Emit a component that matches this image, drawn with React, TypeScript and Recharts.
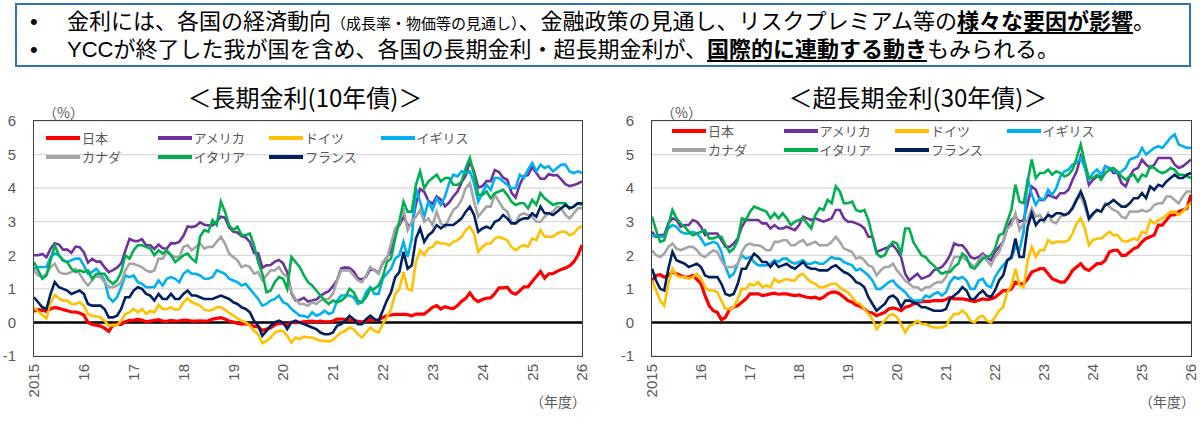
import React from 'react';
import { LineChart, Line, XAxis, YAxis, CartesianGrid, ReferenceLine } from 'recharts';

// x axis: monthly points, Jan 2015 .. Jan 2026 (t in years from Jan 2015)
const YEAR_LABELS = ['2015', '16', '17', '18', '19', '20', '21', '22', '23', '24', '25', '26'];
const YEAR_TICKS = YEAR_LABELS.map((_, i) => i);
const Y_TICKS = [-1, 0, 1, 2, 3, 4, 5, 6];

const COUNTRIES = [
  { key: 'jp', name: '日本', color: '#ff0000', width: 3.2 },
  { key: 'us', name: 'アメリカ', color: '#7030a0', width: 2.6 },
  { key: 'de', name: 'ドイツ', color: '#ffc000', width: 2.6 },
  { key: 'uk', name: 'イギリス', color: '#00b0f0', width: 2.6 },
  { key: 'ca', name: 'カナダ', color: '#a5a5a5', width: 2.6 },
  { key: 'it', name: 'イタリア', color: '#00b050', width: 2.6 },
  { key: 'fr', name: 'フランス', color: '#002060', width: 2.6 },
];

// ---- 10-year yields (%) ----
const jp10 = [
  0.33, 0.38, 0.36, 0.33, 0.40, 0.45, 0.42, 0.38, 0.35, 0.31, 0.31, 0.28,
  0.22, 0.00, -0.06, -0.08, -0.11, -0.17, -0.27, -0.08, -0.06, -0.06, 0.02, 0.06,
  0.07, 0.09, 0.07, 0.02, 0.04, 0.06, 0.08, 0.04, 0.03, 0.06, 0.04, 0.05,
  0.07, 0.06, 0.04, 0.04, 0.05, 0.04, 0.05, 0.10, 0.12, 0.14, 0.10, 0.04,
  0.01, -0.03, -0.05, -0.04, -0.06, -0.12, -0.13, -0.24, -0.20, -0.16, -0.08, -0.02,
  -0.04, -0.09, 0.01, -0.01, 0.00, 0.02, 0.03, 0.04, 0.02, 0.04, 0.02, 0.02,
  0.04, 0.10, 0.10, 0.09, 0.08, 0.06, 0.03, 0.02, 0.04, 0.09, 0.07, 0.06,
  0.15, 0.20, 0.22, 0.24, 0.24, 0.24, 0.23, 0.20, 0.25, 0.25, 0.25, 0.35,
  0.45, 0.50, 0.40, 0.47, 0.43, 0.41, 0.50, 0.63, 0.72, 0.88, 0.70, 0.62,
  0.68, 0.72, 0.73, 0.86, 1.03, 1.03, 1.05, 0.89, 0.84, 0.94, 1.06, 1.06,
  1.22, 1.37, 1.52, 1.32, 1.45, 1.45, 1.52, 1.58, 1.62, 1.68, 1.80, 2.00,
  2.30,
];
const us10 = [
  2.00, 2.00, 2.04, 1.94, 2.20, 2.36, 2.32, 2.17, 2.17, 2.07, 2.26, 2.24,
  2.09, 1.78, 1.89, 1.81, 1.81, 1.64, 1.50, 1.56, 1.63, 1.76, 2.14, 2.49,
  2.43, 2.42, 2.48, 2.30, 2.30, 2.19, 2.32, 2.21, 2.20, 2.36, 2.35, 2.40,
  2.58, 2.86, 2.84, 2.87, 2.98, 2.91, 2.89, 2.89, 3.00, 3.15, 3.12, 2.83,
  2.71, 2.68, 2.57, 2.53, 2.40, 2.07, 2.06, 1.63, 1.70, 1.71, 1.81, 1.86,
  1.76, 1.50, 0.87, 0.66, 0.67, 0.73, 0.62, 0.65, 0.68, 0.79, 0.87, 0.93,
  1.08, 1.26, 1.61, 1.64, 1.62, 1.52, 1.32, 1.28, 1.37, 1.58, 1.56, 1.47,
  1.76, 1.93, 2.13, 2.75, 2.90, 3.14, 2.90, 2.90, 3.52, 3.98, 3.89, 3.62,
  3.53, 3.75, 3.66, 3.46, 3.57, 3.75, 3.90, 4.17, 4.38, 4.80, 4.50, 4.02,
  4.06, 4.21, 4.21, 4.54, 4.48, 4.31, 4.25, 3.87, 3.72, 4.10, 4.36, 4.39,
  4.63, 4.45, 4.28, 4.28, 4.42, 4.38, 4.39, 4.26, 4.12, 4.06, 4.09, 4.14,
  4.20,
];
const de10 = [
  0.45, 0.33, 0.22, 0.12, 0.58, 0.82, 0.72, 0.65, 0.65, 0.55, 0.55, 0.60,
  0.50, 0.25, 0.20, 0.18, 0.15, 0.05, -0.10, -0.08, -0.08, 0.05, 0.25, 0.30,
  0.40, 0.30, 0.40, 0.25, 0.35, 0.30, 0.52, 0.40, 0.40, 0.45, 0.38, 0.40,
  0.60, 0.72, 0.60, 0.55, 0.50, 0.38, 0.35, 0.38, 0.45, 0.45, 0.38, 0.28,
  0.20, 0.12, 0.05, 0.00, -0.10, -0.25, -0.35, -0.62, -0.55, -0.45, -0.30, -0.25,
  -0.25, -0.40, -0.60, -0.45, -0.50, -0.42, -0.45, -0.45, -0.50, -0.55, -0.55, -0.57,
  -0.52, -0.40, -0.30, -0.25, -0.15, -0.20, -0.35, -0.45, -0.30, -0.15, -0.25, -0.30,
  -0.05, 0.15, 0.40, 0.85, 1.00, 1.50, 1.00, 0.95, 1.80, 2.15, 2.00, 2.20,
  2.25, 2.40, 2.35, 2.35, 2.30, 2.40, 2.45, 2.55, 2.75, 2.85, 2.65, 2.10,
  2.25, 2.35, 2.35, 2.50, 2.55, 2.50, 2.45, 2.25, 2.15, 2.25, 2.30, 2.25,
  2.50, 2.45, 2.75, 2.55, 2.55, 2.55, 2.65, 2.70, 2.70, 2.60, 2.65, 2.80,
  2.88,
];
const uk10 = [
  1.60, 1.65, 1.65, 1.65, 1.95, 2.05, 2.00, 1.85, 1.80, 1.85, 1.90, 1.90,
  1.70, 1.45, 1.50, 1.60, 1.45, 1.25, 0.75, 0.62, 0.75, 1.05, 1.40, 1.35,
  1.40, 1.20, 1.15, 1.05, 1.05, 1.05, 1.25, 1.10, 1.30, 1.35, 1.30, 1.20,
  1.45, 1.55, 1.45, 1.45, 1.40, 1.30, 1.30, 1.35, 1.55, 1.50, 1.45, 1.30,
  1.25, 1.20, 1.10, 1.15, 1.00, 0.85, 0.70, 0.50, 0.55, 0.65, 0.70, 0.80,
  0.60, 0.55, 0.40, 0.30, 0.20, 0.20, 0.15, 0.30, 0.20, 0.25, 0.35, 0.25,
  0.30, 0.65, 0.80, 0.80, 0.80, 0.75, 0.55, 0.60, 0.90, 1.05, 0.85, 0.85,
  1.30, 1.45, 1.60, 1.90, 2.00, 2.40, 1.95, 2.50, 4.00, 3.60, 3.15, 3.60,
  3.35, 3.70, 3.50, 3.75, 4.15, 4.40, 4.35, 4.50, 4.45, 4.50, 4.15, 3.60,
  3.85, 4.10, 3.95, 4.30, 4.30, 4.20, 4.10, 4.00, 4.00, 4.40, 4.30, 4.55,
  4.75, 4.50, 4.70, 4.60, 4.65, 4.50, 4.60, 4.70, 4.70, 4.50, 4.45, 4.50,
  4.45,
];
const ca10 = [
  1.55, 1.40, 1.35, 1.45, 1.65, 1.75, 1.50, 1.45, 1.45, 1.50, 1.60, 1.45,
  1.25, 1.10, 1.25, 1.40, 1.35, 1.20, 1.05, 1.05, 1.10, 1.20, 1.55, 1.75,
  1.75, 1.70, 1.65, 1.55, 1.50, 1.55, 1.90, 1.90, 2.10, 2.00, 1.95, 1.95,
  2.25, 2.30, 2.15, 2.25, 2.35, 2.20, 2.25, 2.25, 2.40, 2.55, 2.35, 2.05,
  1.95, 1.85, 1.65, 1.70, 1.65, 1.45, 1.50, 1.25, 1.40, 1.55, 1.55, 1.65,
  1.45, 1.35, 0.90, 0.70, 0.55, 0.55, 0.50, 0.60, 0.55, 0.65, 0.70, 0.70,
  0.85, 1.25, 1.55, 1.55, 1.55, 1.40, 1.25, 1.20, 1.40, 1.65, 1.55, 1.45,
  1.80, 1.90, 2.35, 2.80, 2.95, 3.40, 2.75, 3.00, 3.15, 3.35, 3.00, 3.10,
  2.90, 3.30, 2.95, 2.85, 3.10, 3.35, 3.45, 3.65, 4.00, 4.15, 3.60, 3.15,
  3.30, 3.45, 3.45, 3.80, 3.60, 3.40, 3.30, 3.00, 2.95, 3.20, 3.25, 3.20,
  3.15, 3.00, 3.00, 3.15, 3.25, 3.30, 3.45, 3.40, 3.20, 3.10, 3.25, 3.40,
  3.40,
];
const it10 = [
  1.80, 1.55, 1.30, 1.40, 1.85, 2.30, 2.00, 1.85, 1.80, 1.60, 1.50, 1.55,
  1.50, 1.55, 1.30, 1.45, 1.45, 1.45, 1.25, 1.15, 1.25, 1.50, 2.00, 1.90,
  2.15, 2.30, 2.30, 2.25, 2.20, 2.00, 2.15, 2.05, 2.15, 2.00, 1.80, 1.90,
  2.00, 2.05, 1.90, 1.80, 2.55, 2.75, 2.70, 3.05, 2.90, 3.60, 3.30, 2.90,
  2.75, 2.85, 2.60, 2.60, 2.65, 2.30, 1.80, 1.45, 0.90, 0.95, 1.20, 1.35,
  1.30, 1.00, 1.95, 1.80, 1.65, 1.40, 1.20, 1.10, 0.95, 0.80, 0.65, 0.55,
  0.65, 0.60, 0.65, 0.75, 1.00, 0.90, 0.65, 0.60, 0.75, 1.00, 1.00, 1.10,
  1.35, 1.80, 1.90, 2.50, 3.00, 3.60, 3.30, 3.30, 4.10, 4.50, 4.00, 4.20,
  4.30, 4.40, 4.20, 4.30, 4.30, 4.10, 4.10, 4.20, 4.60, 4.90, 4.40, 3.80,
  3.80, 3.90, 3.70, 3.85, 3.90, 3.95, 3.80, 3.60, 3.50, 3.55, 3.55, 3.40,
  3.65, 3.50, 3.85, 3.70, 3.60, 3.50, 3.55, 3.55, 3.55, 3.40, 3.45, 3.55,
  3.50,
];
const fr10 = [
  0.75, 0.60, 0.45, 0.40, 0.85, 1.20, 1.05, 1.00, 0.95, 0.85, 0.90, 0.95,
  0.85, 0.55, 0.50, 0.50, 0.50, 0.40, 0.15, 0.15, 0.20, 0.40, 0.75, 0.75,
  0.95, 1.05, 1.00, 0.85, 0.80, 0.65, 0.85, 0.70, 0.70, 0.85, 0.70, 0.70,
  0.85, 0.95, 0.80, 0.80, 0.75, 0.70, 0.70, 0.70, 0.75, 0.80, 0.75, 0.70,
  0.60, 0.55, 0.45, 0.40, 0.30, 0.05, -0.10, -0.40, -0.25, -0.10, 0.00, 0.05,
  0.00, -0.20, 0.00, 0.05, 0.00, -0.05, -0.10, -0.15, -0.20, -0.30, -0.35, -0.35,
  -0.30, -0.10, -0.05, 0.05, 0.20, 0.10, -0.05, -0.05, 0.10, 0.20, 0.10, 0.05,
  0.35, 0.65, 0.90, 1.35, 1.50, 2.10, 1.60, 1.70, 2.50, 2.80, 2.40, 2.60,
  2.70, 2.90, 2.80, 2.90, 2.90, 2.90, 3.00, 3.10, 3.30, 3.45, 3.20, 2.70,
  2.80, 2.85, 2.80, 3.00, 3.05, 3.20, 3.10, 2.95, 2.95, 3.05, 3.10, 3.10,
  3.25, 3.15, 3.45, 3.25, 3.25, 3.20, 3.30, 3.40, 3.50, 3.40, 3.45, 3.55,
  3.55,
];

// ---- 30-year yields (%) ----
const jp30 = [
  1.25, 1.40, 1.42, 1.35, 1.40, 1.50, 1.45, 1.40, 1.35, 1.35, 1.40, 1.28,
  1.15, 0.80, 0.50, 0.35, 0.30, 0.08, 0.15, 0.40, 0.45, 0.50, 0.60, 0.70,
  0.85, 0.85, 0.85, 0.80, 0.82, 0.85, 0.87, 0.84, 0.85, 0.85, 0.82, 0.80,
  0.82, 0.78, 0.75, 0.73, 0.75, 0.70, 0.75, 0.85, 0.90, 0.90, 0.85, 0.75,
  0.65, 0.60, 0.52, 0.48, 0.40, 0.30, 0.28, 0.20, 0.25, 0.30, 0.40, 0.43,
  0.40, 0.35, 0.45, 0.48, 0.55, 0.60, 0.62, 0.63, 0.63, 0.65, 0.65, 0.65,
  0.68, 0.75, 0.70, 0.70, 0.70, 0.68, 0.65, 0.62, 0.66, 0.70, 0.68, 0.70,
  0.75, 0.85, 0.95, 0.95, 1.00, 1.20, 1.15, 1.15, 1.30, 1.50, 1.55, 1.60,
  1.60, 1.45, 1.30, 1.25, 1.20, 1.20, 1.35, 1.55, 1.65, 1.75, 1.60, 1.55,
  1.65, 1.75, 1.75, 1.85, 2.10, 2.15, 2.15, 2.00, 2.00, 2.10, 2.20, 2.25,
  2.40, 2.50, 2.55, 2.60, 2.90, 2.90, 3.05, 3.20, 3.20, 3.30, 3.35, 3.40,
  3.80,
];
const us30 = [
  2.70, 2.55, 2.60, 2.60, 2.95, 3.10, 3.05, 2.85, 2.90, 2.90, 3.05, 3.00,
  2.85, 2.60, 2.65, 2.65, 2.65, 2.45, 2.25, 2.25, 2.35, 2.50, 2.85, 3.05,
  3.05, 3.05, 3.05, 2.95, 2.95, 2.80, 2.90, 2.80, 2.80, 2.85, 2.80, 2.75,
  2.90, 3.15, 3.10, 3.05, 3.10, 3.05, 3.00, 3.05, 3.10, 3.35, 3.35, 3.10,
  3.00, 3.00, 2.95, 2.90, 2.80, 2.55, 2.55, 2.10, 2.15, 2.20, 2.25, 2.30,
  2.15, 1.95, 1.45, 1.25, 1.35, 1.45, 1.30, 1.35, 1.40, 1.55, 1.60, 1.65,
  1.80, 2.00, 2.35, 2.30, 2.30, 2.15, 1.95, 1.90, 1.95, 2.05, 1.95, 1.85,
  2.10, 2.25, 2.40, 2.80, 3.05, 3.15, 3.00, 3.05, 3.55, 4.05, 3.95, 3.65,
  3.65, 3.80, 3.75, 3.70, 3.85, 3.85, 3.95, 4.25, 4.50, 4.95, 4.65, 4.10,
  4.25, 4.35, 4.35, 4.65, 4.60, 4.45, 4.45, 4.15, 4.05, 4.35, 4.55, 4.60,
  4.85, 4.70, 4.60, 4.70, 4.90, 4.90, 4.90, 4.90, 4.70, 4.60, 4.65, 4.75,
  4.85,
];
const de30 = [
  1.25, 0.95, 0.65, 0.50, 1.15, 1.60, 1.40, 1.35, 1.35, 1.30, 1.35, 1.45,
  1.30, 1.05, 0.95, 0.95, 0.90, 0.65, 0.40, 0.40, 0.45, 0.70, 1.00, 1.00,
  1.15, 1.10, 1.20, 1.05, 1.10, 1.05, 1.30, 1.20, 1.25, 1.30, 1.25, 1.25,
  1.40, 1.45, 1.30, 1.20, 1.15, 1.05, 1.05, 1.10, 1.15, 1.15, 1.05, 0.95,
  0.90, 0.75, 0.60, 0.55, 0.40, 0.25, 0.10, -0.20, -0.05, 0.05, 0.20, 0.25,
  0.15, -0.05, -0.30, -0.10, -0.05, 0.05, -0.05, -0.05, -0.10, -0.15, -0.15, -0.15,
  -0.10, 0.10, 0.25, 0.25, 0.35, 0.25, 0.05, 0.00, 0.15, 0.20, 0.05, 0.00,
  0.15, 0.35, 0.45, 0.90, 1.10, 1.60, 1.10, 1.05, 1.85, 2.25, 1.95, 2.15,
  2.15, 2.45, 2.35, 2.40, 2.40, 2.40, 2.45, 2.65, 2.95, 3.10, 2.80, 2.30,
  2.45, 2.50, 2.50, 2.60, 2.70, 2.60, 2.60, 2.45, 2.40, 2.45, 2.50, 2.45,
  2.70, 2.65, 3.05, 2.95, 3.05, 3.10, 3.20, 3.30, 3.30, 3.20, 3.30, 3.45,
  3.55,
];
const uk30 = [
  2.55, 2.60, 2.55, 2.55, 2.80, 2.90, 2.85, 2.70, 2.65, 2.65, 2.70, 2.65,
  2.50, 2.30, 2.35, 2.40, 2.35, 2.10, 1.65, 1.35, 1.45, 1.75, 2.00, 1.90,
  1.95, 1.80, 1.70, 1.70, 1.70, 1.75, 1.85, 1.80, 1.90, 1.90, 1.80, 1.75,
  1.80, 1.85, 1.75, 1.75, 1.80, 1.75, 1.75, 1.85, 1.95, 1.90, 1.90, 1.80,
  1.75, 1.70, 1.55, 1.60, 1.50, 1.40, 1.25, 1.00, 1.00, 1.10, 1.20, 1.25,
  1.10, 1.00, 0.90, 0.75, 0.65, 0.65, 0.65, 0.80, 0.75, 0.85, 0.90, 0.80,
  0.90, 1.20, 1.35, 1.30, 1.35, 1.25, 1.00, 1.00, 1.25, 1.30, 1.10, 1.05,
  1.35, 1.55, 1.70, 1.85, 1.90, 2.25, 2.15, 2.70, 4.30, 3.80, 3.50, 3.70,
  3.65, 3.95, 3.80, 4.00, 4.35, 4.50, 4.55, 4.70, 4.75, 4.90, 4.60, 4.25,
  4.45, 4.55, 4.40, 4.65, 4.60, 4.55, 4.45, 4.50, 4.60, 4.85, 4.90, 4.95,
  5.20, 5.00, 5.10, 5.20, 5.25, 5.20, 5.35, 5.50, 5.60, 5.30, 5.25, 5.20,
  5.20,
];
const ca30 = [
  2.15, 2.00, 1.95, 2.05, 2.25, 2.35, 2.20, 2.15, 2.20, 2.25, 2.25, 2.15,
  2.00, 1.95, 2.05, 2.15, 2.10, 1.85, 1.65, 1.65, 1.65, 1.75, 2.10, 2.30,
  2.35, 2.30, 2.30, 2.25, 2.15, 2.15, 2.40, 2.40, 2.45, 2.45, 2.30, 2.30,
  2.40, 2.45, 2.30, 2.35, 2.40, 2.30, 2.30, 2.30, 2.40, 2.55, 2.40, 2.20,
  2.15, 2.10, 1.90, 1.95, 1.85, 1.70, 1.65, 1.40, 1.55, 1.65, 1.65, 1.75,
  1.55, 1.40, 1.25, 1.15, 1.05, 1.05, 0.95, 1.05, 1.05, 1.15, 1.20, 1.20,
  1.35, 1.65, 1.95, 1.95, 1.95, 1.85, 1.75, 1.65, 1.85, 2.00, 1.85, 1.70,
  1.95, 2.10, 2.40, 2.80, 2.90, 3.25, 2.75, 2.95, 3.05, 3.40, 3.15, 3.20,
  3.00, 3.25, 3.00, 2.95, 3.15, 3.20, 3.25, 3.45, 3.70, 3.75, 3.45, 3.05,
  3.20, 3.35, 3.30, 3.55, 3.45, 3.35, 3.30, 3.15, 3.10, 3.30, 3.30, 3.30,
  3.35, 3.30, 3.35, 3.50, 3.55, 3.55, 3.75, 3.75, 3.65, 3.55, 3.75, 3.90,
  3.90,
];
const it30 = [
  3.15, 2.75, 2.40, 2.45, 2.90, 3.35, 3.10, 2.95, 2.85, 2.70, 2.60, 2.65,
  2.70, 2.75, 2.50, 2.50, 2.55, 2.55, 2.30, 2.10, 2.20, 2.45, 3.10, 3.05,
  3.30, 3.45, 3.40, 3.35, 3.30, 3.10, 3.25, 3.10, 3.25, 3.10, 2.90, 3.00,
  3.05, 3.10, 2.95, 2.80, 3.20, 3.40, 3.35, 3.65, 3.55, 4.05, 3.90, 3.55,
  3.55, 3.60, 3.35, 3.30, 3.35, 3.05, 2.55, 2.05, 1.95, 2.00, 2.25, 2.40,
  2.35, 2.05, 2.80, 2.80, 2.40, 2.20, 2.00, 1.95, 1.80, 1.70, 1.55, 1.45,
  1.50, 1.50, 1.65, 1.75, 2.05, 1.95, 1.65, 1.60, 1.75, 1.90, 1.95, 2.00,
  2.20, 2.60, 2.65, 3.00, 3.35, 4.10, 3.60, 3.55, 4.20, 4.85, 4.30, 4.45,
  4.45, 4.55, 4.40, 4.50, 4.45, 4.35, 4.40, 4.55, 4.90, 5.30, 4.75, 4.30,
  4.30, 4.40, 4.25, 4.45, 4.55, 4.60, 4.50, 4.35, 4.25, 4.35, 4.40, 4.20,
  4.40, 4.35, 4.65, 4.60, 4.50, 4.45, 4.50, 4.60, 4.55, 4.40, 4.40, 4.35,
  4.30,
];
const fr30 = [
  1.60, 1.25, 1.00, 0.95, 1.60, 2.10, 1.85, 1.80, 1.75, 1.65, 1.70, 1.75,
  1.65, 1.40, 1.35, 1.35, 1.35, 1.15, 0.85, 0.80, 0.85, 1.15, 1.60, 1.60,
  1.85, 2.05, 1.95, 1.80, 1.80, 1.65, 1.80, 1.65, 1.70, 1.75, 1.65, 1.60,
  1.70, 1.80, 1.65, 1.60, 1.60, 1.55, 1.55, 1.55, 1.65, 1.70, 1.60, 1.50,
  1.45, 1.35, 1.20, 1.15, 1.05, 0.75, 0.55, 0.35, 0.45, 0.55, 0.75, 0.80,
  0.70, 0.45, 0.65, 0.65, 0.60, 0.55, 0.45, 0.45, 0.40, 0.35, 0.35, 0.35,
  0.40, 0.70, 0.80, 0.90, 1.05, 0.95, 0.70, 0.70, 0.85, 0.95, 0.80, 0.75,
  0.95, 1.25, 1.40, 1.85, 1.95, 2.50, 1.95, 1.95, 2.85, 3.25, 2.90, 3.05,
  3.05, 3.20, 3.15, 3.25, 3.25, 3.20, 3.25, 3.40, 3.65, 3.90, 3.60, 3.10,
  3.25, 3.35, 3.30, 3.50, 3.55, 3.65, 3.55, 3.45, 3.45, 3.55, 3.70, 3.70,
  3.85, 3.70, 4.05, 3.95, 4.10, 4.05, 4.20, 4.30, 4.40, 4.30, 4.30, 4.40,
  4.45,
];

const buildRows = (series: Record<string, number[]>) =>
  series.jp.map((_, i) => {
    const row: Record<string, number> = { t: i / 12 };
    Object.keys(series).forEach((k) => {
      row[k] = series[k][i];
    });
    return row;
  });

const rows10 = buildRows({ jp: jp10, us: us10, de: de10, uk: uk10, ca: ca10, it: it10, fr: fr10 });
const rows30 = buildRows({ jp: jp30, us: us30, de: de30, uk: uk30, ca: ca30, it: it30, fr: fr30 });

const JP_FONT = '"Noto Sans CJK JP", "Noto Sans", sans-serif';
// Latin-first stack: Japanese glyphs fall back to Noto CJK, line boxes stay compact
const HEAD_FONT = '"Liberation Sans", "Noto Sans CJK JP", sans-serif';
const NUM_FONT = '"Liberation Sans", Arial, sans-serif';
const AXIS_GRAY = '#595959';

// rotated year labels under the x axis
const YearTick = (props: any) => {
  const { x, y, payload } = props;
  return (
    <text
      x={x}
      y={y}
      transform={`rotate(-90 ${x} ${y})`}
      textAnchor="end"
      dy="0.36em"
      fontSize={15}
      fill={AXIS_GRAY}
      fontFamily={NUM_FONT}
    >
      {YEAR_LABELS[payload.value]}
    </text>
  );
};

interface ChartProps {
  rows: Record<string, number>[];
  left: number;
  yAxisWidth: number;
  rightMargin: number;
  title: string;
  titleCenter: number;
  legendLeft: number;
  legendRows: number[];
}

const PLOT_TOP = 121;
const PLOT_BOTTOM = 356;
const CHART_TOP = 100;

const BondChart: React.FC<ChartProps> = ({
  rows, left, yAxisWidth, rightMargin, title, titleCenter, legendLeft, legendRows,
}) => {
  const plotLeft = left + yAxisWidth;
  const plotRight = left + 600 - rightMargin;
  return (
    <>
      <div
        style={{
          position: 'absolute', left: titleCenter - 200, top: 81, width: 400,
          textAlign: 'center', fontSize: 24, lineHeight: '32px', fontFamily: JP_FONT, color: '#000',
        }}
      >
        {title}
      </div>
      <div
        style={{
          position: 'absolute', left: plotLeft + 9, top: 104, fontSize: 14,
          lineHeight: '17px', color: AXIS_GRAY, fontFamily: JP_FONT,
        }}
      >
        （%）
      </div>
      <div style={{ position: 'absolute', left, top: CHART_TOP }}>
        <LineChart
          width={600}
          height={322}
          data={rows}
          margin={{ top: PLOT_TOP - CHART_TOP, right: rightMargin, bottom: 0, left: 0 }}
        >
          <CartesianGrid vertical={false} stroke="#d9d9d9" strokeWidth={1.2} />
          <XAxis
            dataKey="t"
            type="number"
            domain={[0, 11]}
            ticks={YEAR_TICKS}
            interval={0}
            tick={<YearTick />}
            tickLine={false}
            axisLine={false}
            tickSize={0}
            tickMargin={8}
            height={322 - (PLOT_BOTTOM - CHART_TOP)}
          />
          <YAxis
            type="number"
            domain={[-1, 6]}
            ticks={Y_TICKS}
            interval={0}
            width={yAxisWidth}
            tickLine={false}
            axisLine={false}
            tickSize={0}
            tickMargin={18}
            tick={{ fontSize: 15, fill: AXIS_GRAY, fontFamily: NUM_FONT }}
          />
          <ReferenceLine y={0} stroke="#000" strokeWidth={2.5} />
          {COUNTRIES.map((c) => (
            <Line
              key={c.key}
              type="linear"
              dataKey={c.key}
              name={c.name}
              stroke={c.color}
              strokeWidth={c.width}
              dot={false}
              activeDot={false}
              isAnimationActive={false}
            />
          ))}
        </LineChart>
      </div>
      {/* plot frame */}
      <div
        style={{
          position: 'absolute', left: plotLeft - 1, top: PLOT_TOP - 1,
          width: plotRight - plotLeft + 2, height: PLOT_BOTTOM - PLOT_TOP + 2,
          border: '1.6px solid #404040', boxSizing: 'border-box', pointerEvents: 'none',
        }}
      />
      {/* legend */}
      {COUNTRIES.map((c, i) => (
        <div
          key={c.key}
          style={{
            position: 'absolute', left: legendLeft + (i % 4) * 111.5,
            top: legendRows[Math.floor(i / 4)] - 7, height: 14,
            display: 'flex', alignItems: 'center', whiteSpace: 'nowrap',
          }}
        >
          <span style={{ display: 'inline-block', width: 34, height: c.key === 'jp' ? 4.5 : 3.5, background: c.color }} />
          <span style={{ marginLeft: 2, fontSize: 13, color: AXIS_GRAY, fontFamily: JP_FONT, lineHeight: '14px' }}>
            {c.name}
          </span>
        </div>
      ))}
      <div
        style={{
          position: 'absolute', left: plotRight - 52, top: 392, fontSize: 14,
          lineHeight: '18px', color: AXIS_GRAY, fontFamily: JP_FONT, whiteSpace: 'nowrap',
        }}
      >
        （年度）
      </div>
    </>
  );
};

const underline: React.CSSProperties = { fontWeight: 700, textDecoration: 'underline', textUnderlineOffset: 3 };
const headLine: React.CSSProperties = {
  position: 'absolute', left: 67, fontSize: 22, lineHeight: '28px', whiteSpace: 'nowrap',
  color: '#000', fontFamily: HEAD_FONT,
};

export default function App() {
  return (
    <div
      style={{
        position: 'absolute', left: 0, top: 0, width: 1200, height: 422,
        background: '#fff', overflow: 'hidden', fontFamily: JP_FONT,
      }}
    >
      <div
        style={{
          position: 'absolute', left: 15, top: 3, width: 1176, height: 64,
          border: '2px solid #2e75b6', boxSizing: 'border-box',
        }}
      />
      <div style={{ ...headLine, left: 30, top: 8 }}>•</div>
      <div style={{ ...headLine, left: 30, top: 36 }}>•</div>
      <div style={{ ...headLine, top: 8 }}>
        金利には、各国の経済動向<span style={{ fontSize: 15 }}>（成長率・物価等の見通し）</span>、金融政策の見通し、リスクプレミアム等の
        <span style={underline}>様々な要因が影響</span>。
      </div>
      <div style={{ ...headLine, top: 36 }}>
        YCCが終了した我が国を含め、各国の長期金利・超長期金利が、<span style={underline}>国際的に連動する動き</span>もみられる。
      </div>

      <BondChart
        rows={rows10}
        left={0}
        yAxisWidth={34}
        rightMargin={18}
        title="＜長期金利(10年債)＞"
        titleCenter={305}
        legendLeft={46}
        legendRows={[138, 157]}
      />
      <BondChart
        rows={rows30}
        left={600}
        yAxisWidth={52}
        rightMargin={9}
        title="＜超長期金利(30年債)＞"
        titleCenter={918}
        legendLeft={672}
        legendRows={[131, 150]}
      />
    </div>
  );
}
